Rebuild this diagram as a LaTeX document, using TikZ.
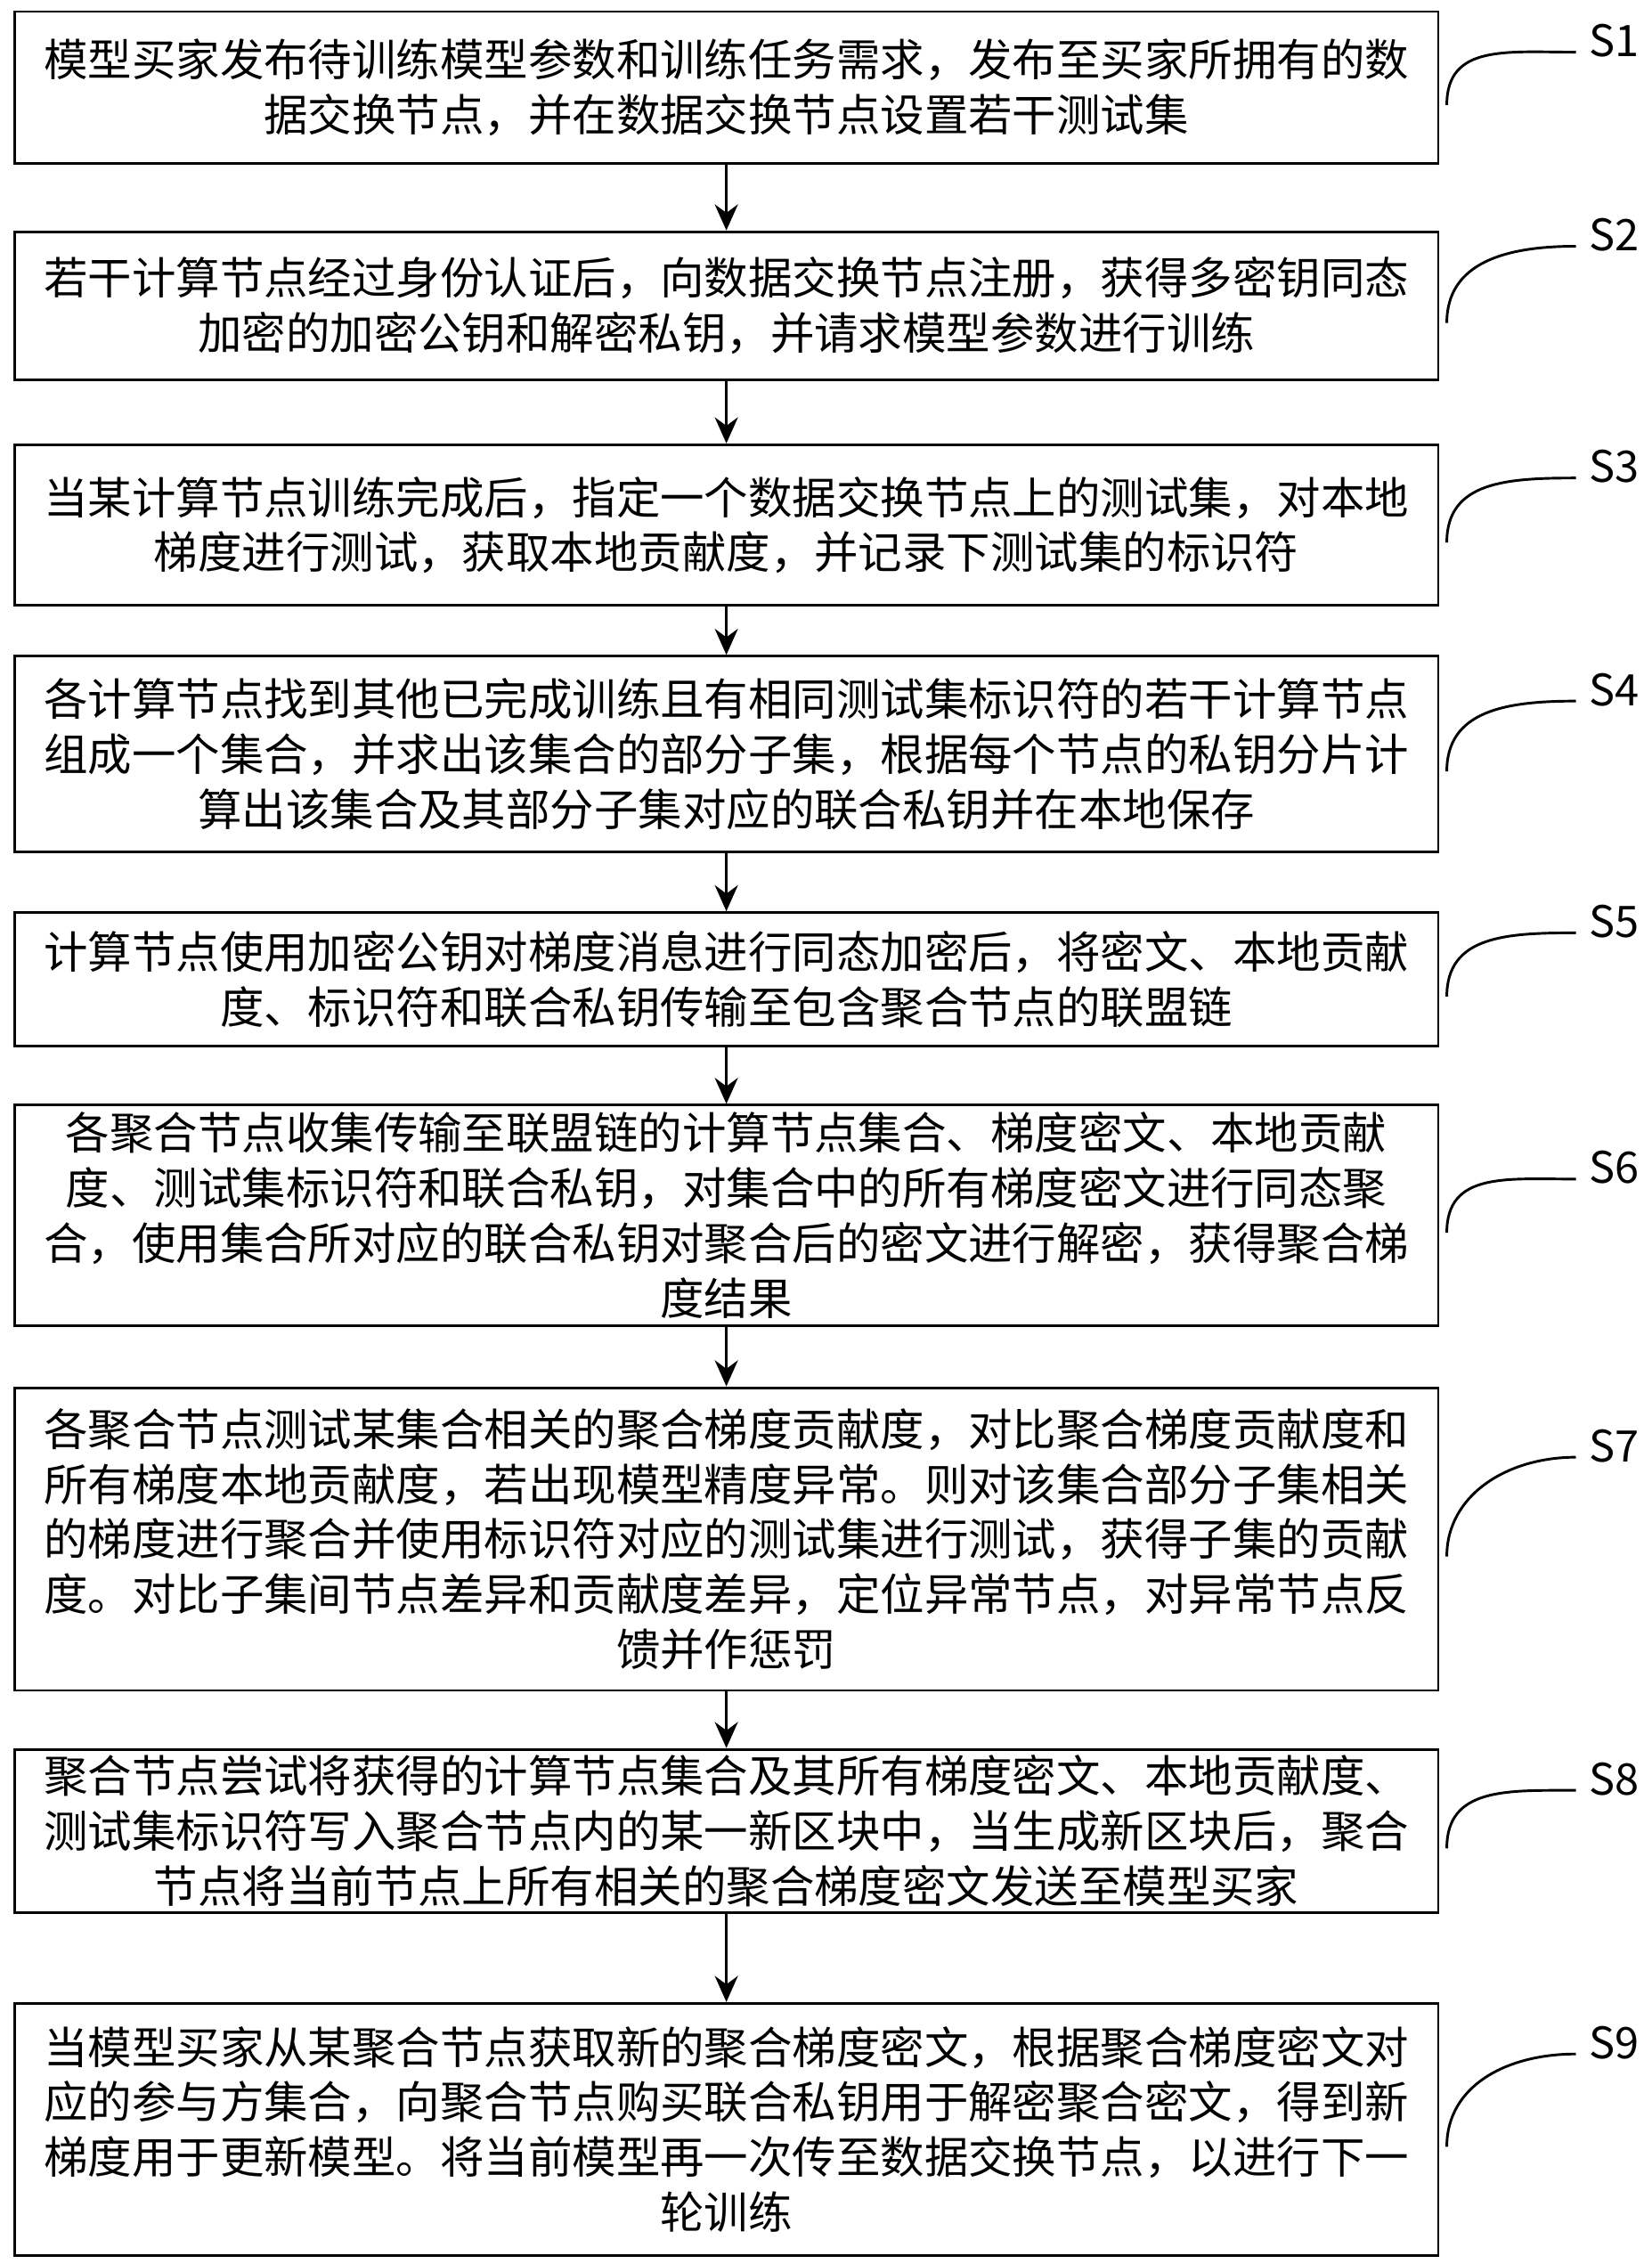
\documentclass[tikz,border=0pt]{standalone}
\usepackage{fontspec}
\setmainfont{Noto Sans CJK SC}
\usetikzlibrary{arrows.meta,calc}
\begin{document}
\begin{tikzpicture}[x=0.5pt,y=-0.5pt,
  box/.style={draw,line width=0.9pt,minimum width=491.5pt,text width=486pt,align=center,inner sep=2pt,font=\fontsize{15.2pt}{19pt}\selectfont},
  lab/.style={font=\fontsize{15pt}{18pt}\selectfont,inner sep=1pt},
  arr/.style={-{Stealth[length=9pt,width=8pt]},line width=0.9pt},
  crv/.style={line width=0.9pt}]
\useasboundingbox (0,0) rectangle (1140,1563);
\node[box,minimum height=52.5pt] (s1) at (501.5,60.5) {模型买家发布待训练模型参数和训练任务需求，发布至买家所拥有的数\\据交换节点，并在数据交换节点设置若干测试集};
\node[box,minimum height=51pt] (s2) at (501.5,211) {若干计算节点经过身份认证后，向数据交换节点注册，获得多密钥同态\\加密的加密公钥和解密私钥，并请求模型参数进行训练};
\node[box,minimum height=55.5pt] (s3) at (501.5,362.5) {当某计算节点训练完成后，指定一个数据交换节点上的测试集，对本地\\梯度进行测试，获取本地贡献度，并记录下测试集的标识符};
\node[box,minimum height=67.5pt] (s4) at (501.5,520.5) {各计算节点找到其他已完成训练且有相同测试集标识符的若干计算节点\\组成一个集合，并求出该集合的部分子集，根据每个节点的私钥分片计\\算出该集合及其部分子集对应的联合私钥并在本地保存};
\node[box,minimum height=46pt] (s5) at (501.5,676) {计算节点使用加密公钥对梯度消息进行同态加密后，将密文、本地贡献\\度、标识符和联合私钥传输至包含聚合节点的联盟链};
\node[box,minimum height=76pt] (s6) at (501.5,839) {各聚合节点收集传输至联盟链的计算节点集合、梯度密文、本地贡献\\度、测试集标识符和联合私钥，对集合中的所有梯度密文进行同态聚\\合，使用集合所对应的联合私钥对聚合后的密文进行解密，获得聚合梯\\度结果};
\node[box,minimum height=104.5pt] (s7) at (501.5,1062.5) {各聚合节点测试某集合相关的聚合梯度贡献度，对比聚合梯度贡献度和\\所有梯度本地贡献度，若出现模型精度异常。则对该集合部分子集相关\\的梯度进行聚合并使用标识符对应的测试集进行测试，获得子集的贡献\\度。对比子集间节点差异和贡献度差异，定位异常节点，对异常节点反\\馈并作惩罚};
\node[box,minimum height=54pt] (s8) at (501.5,1264) {聚合节点尝试将获得的计算节点集合及其所有梯度密文、本地贡献度、\\测试集标识符写入聚合节点内的某一新区块中，当生成新区块后，聚合\\节点将当前节点上所有相关的聚合梯度密文发送至模型买家};
\node[box,minimum height=87pt] (s9) at (501.5,1470) {当模型买家从某聚合节点获取新的聚合梯度密文，根据聚合梯度密文对\\应的参与方集合，向聚合节点购买联合私钥用于解密聚合密文，得到新\\梯度用于更新模型。将当前模型再一次传至数据交换节点，以进行下一\\轮训练};
\foreach \a/\b in {s1/s2,s2/s3,s3/s4,s4/s5,s5/s6,s6/s7,s7/s8,s8/s9}
  \draw[arr] (\a.south) -- (\b.north);
\foreach \s/\y/\t in {s1/28/S1,s2/162/S2,s3/322/S3,s4/476/S4,s5/636/S5,s6/806/S6,s7/998/S7,s8/1228/S8,s9/1410/S9}{
  \node[lab,anchor=west] (l\s) at (1095,\y) {\t};
  \draw[crv] ($(\s.east)+(5,12)$) .. controls ($(\s.east)+(5,-30)$) and (1040,\y+8) .. (1088,\y+8);
}
\end{tikzpicture}
\end{document}
